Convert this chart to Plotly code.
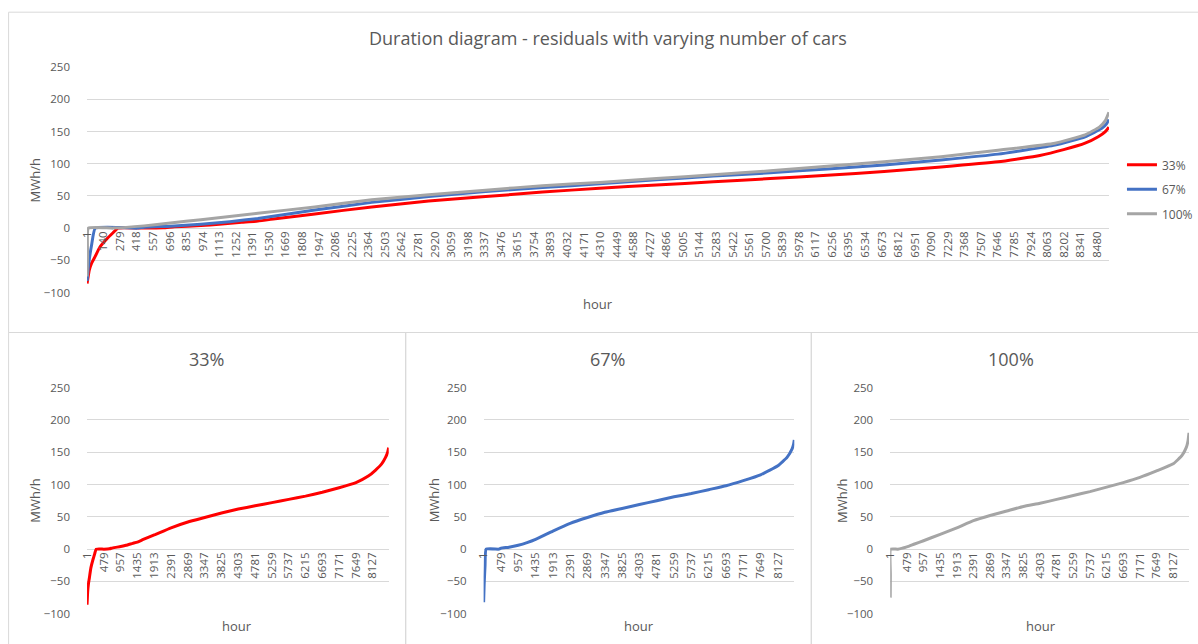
import plotly.graph_objects as go

# Sorted residual load (duration curves), MWh/h, read at selected hours
hours_33 = [1, 20, 40, 66, 110, 170, 220, 260, 479, 640, 735, 957, 1110, 1300, 1435,
            1600, 1913, 2391, 2869, 3347, 3825, 4303, 4781, 5259, 5737, 6215, 6693,
            7171, 7649, 8000, 8200, 8380, 8490, 8550, 8580]
res_33 = [-86, -65, -54, -45, -29, -16, -7, 0, 0, 0.5, 2, 4, 6, 9, 11,
          15, 22, 33, 42, 49, 56, 62, 67, 72, 77, 82, 88,
          95, 103, 113, 122, 132, 142, 150, 157]

hours_67 = [1, 15, 40, 70, 420, 479, 700, 957, 1200, 1435, 1913, 2391, 2869, 3347,
            3825, 4303, 4781, 5259, 5737, 6215, 6693, 7171, 7649, 8127, 8380, 8520,
            8560, 8580]
res_67 = [-82, -55, -25, 0, 0, 1.5, 3, 6, 10, 15, 28, 40, 49, 57,
          63, 69, 75, 81, 86, 92, 98, 106, 115, 129, 142, 155,
          162, 169]

hours_100 = [1, 5, 12, 220, 479, 700, 957, 1435, 1913, 2391, 2869, 3347, 3825, 4303,
             4781, 5259, 5737, 6215, 6693, 7171, 7649, 8127, 8380, 8500, 8550, 8580]
res_100 = [-75, -40, 0, 0, 3.5, 8, 13, 23, 33, 44, 52, 59, 66, 71,
           77, 83, 89, 96, 103, 111, 121, 132, 145, 157, 167, 180]

n_hours = 8580

# Category labels shown on the hour axes
top_ticks = list(range(1, 8481, 139))
small_ticks = list(range(1, 8128, 478))

series_names = ["33%", "67%", "100%"]
series_colors = ["#FF0000", "#4472C4", "#A5A5A5"]
series_hours = [hours_33, hours_67, hours_100]
series_vals = [res_33, res_67, res_100]

W, H = 1198, 644
# The page keeps its default 8px body margin; layout positions below are
# given in on-screen pixels of the whole page (figure plus margin).
BODY = 8
SX = W / (W + 2 * BODY)
SY = H / (H + 2 * BODY)
FONT = "Open Sans"
TXT = "#595959"
GRID = "#D9D9D9"


def px(x):
    return (x / SX - BODY) / W


def py(y):
    return 1 - (y / SY - BODY) / H


fig = go.Figure()

# Panel layout in page pixels: (x0, x1, y_top(250), y_bottom(-100))
panels = [
    (87, 1110, 67, 292),
    (87, 389, 387, 613),
    (484, 795, 387, 613),
    (891, 1197, 387, 613),
]

axis_ids = ["", "2", "3", "4"]

# Combined chart
for name, col, hx, vy in zip(series_names, series_colors, series_hours, series_vals):
    fig.add_trace(go.Scatter(
        x=hx, y=vy, mode="lines", name=name, legendgroup=name,
        line=dict(color=col, width=3, shape="spline", smoothing=0.4),
        xaxis="x", yaxis="y", cliponaxis=False))

# Individual charts
for i, (name, col, hx, vy) in enumerate(zip(series_names, series_colors, series_hours, series_vals)):
    ax = axis_ids[i + 1]
    fig.add_trace(go.Scatter(
        x=hx, y=vy, mode="lines", name=name, showlegend=False,
        line=dict(color=col, width=3, shape="spline", smoothing=0.4),
        xaxis="x" + ax, yaxis="y" + ax, cliponaxis=False))

layout = dict(
    width=W, height=H, autosize=False,
    margin=dict(l=0, r=0, t=0, b=0),
    paper_bgcolor="white", plot_bgcolor="white",
    font=dict(family=FONT, color=TXT, size=11),
    showlegend=True,
    legend=dict(x=px(1123), y=py(150), xanchor="left", yanchor="top",
                font=dict(size=12, color=TXT), tracegroupgap=5.5,
                itemwidth=30, bgcolor="rgba(0,0,0,0)"),
)

for i, (x0, x1, yt, yb) in enumerate(panels):
    ax = axis_ids[i]
    ticks = top_ticks if i == 0 else small_ticks
    zero_y = yt + (yb - yt) * 250 / 350
    layout["xaxis" + ax] = dict(
        domain=[px(x0), min(px(x1), 1.0)], range=[0.5, n_hours + 0.5],
        anchor="free", position=py(zero_y),
        tickvals=ticks, ticktext=[str(t) for t in ticks], tickangle=-90,
        showgrid=False, zeroline=False, showline=False, ticks="",
        tickfont=dict(size=11.5, color=TXT), fixedrange=True)
    layout["yaxis" + ax] = dict(
        domain=[py(yb), py(yt)], range=[-100, 250],
        anchor="x" + ax, tickvals=[-100, -50, 0, 50, 100, 150, 200, 250],
        showgrid=True, gridcolor=GRID, gridwidth=1,
        zeroline=True, zerolinecolor=GRID, zerolinewidth=1,
        showline=False, ticks="", ticklabelstandoff=16,
        tickfont=dict(size=11.5, color=TXT), fixedrange=True)

fig.update_layout(**layout)

# Chart frames
frames = [(8.5, 12, 1220, 332), (8.5, 332, 406, 670), (406, 332, 812, 670), (812, 332, 1220, 670)]
for (a, b, c, d) in frames:
    fig.add_shape(type="rect", xref="paper", yref="paper",
                  x0=px(a), x1=px(c), y0=py(d), y1=py(b),
                  line=dict(color=GRID, width=1), fillcolor="rgba(0,0,0,0)", layer="below")

# Titles and axis titles
texts = [
    ("Duration diagram - residuals with varying number of cars", 609, 38, 18, 0),
    ("33%", 207, 358, 18, 0),
    ("67%", 608, 358, 18, 0),
    ("100%", 1012, 358, 18, 0),
    ("hour", 598, 304, 13, 0),
    ("hour", 237, 625, 13, 0),
    ("hour", 640, 625, 13, 0),
    ("hour", 1042, 625, 13, 0),
    ("MWh/h", 35, 180, 13, -90),
    ("MWh/h", 35, 500, 13, -90),
    ("MWh/h", 434, 500, 13, -90),
    ("MWh/h", 842, 500, 13, -90),
]
for t, x, y, s, ang in texts:
    fig.add_annotation(text=t, x=px(x), y=py(y), xref="paper", yref="paper",
                       xanchor="center", yanchor="middle", showarrow=False,
                       textangle=ang, font=dict(size=s, color=TXT, family=FONT))

fig.write_html("out.html")
